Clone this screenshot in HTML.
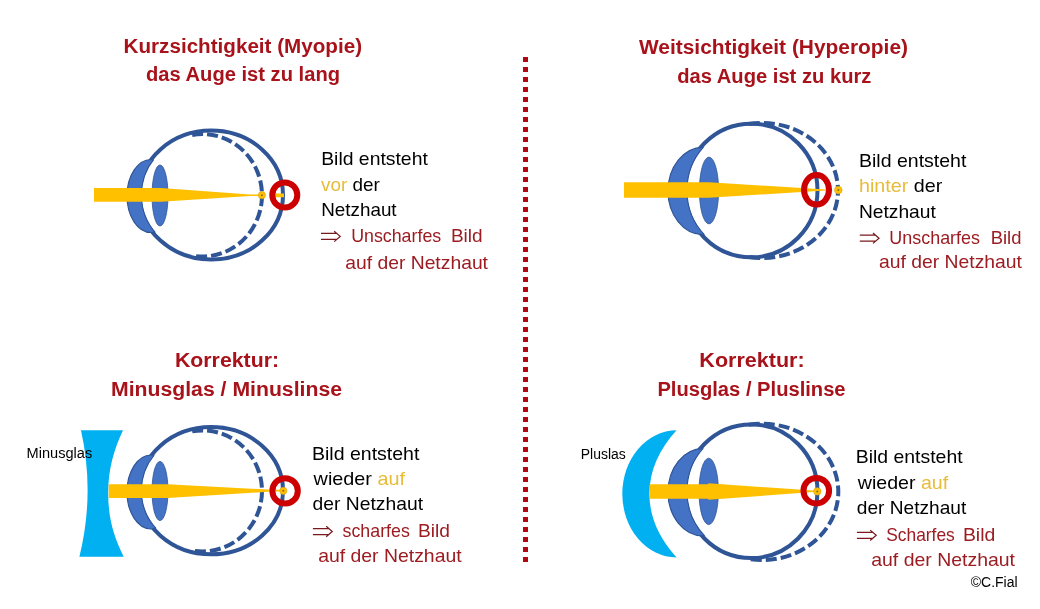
<!DOCTYPE html>
<html><head><meta charset="utf-8"><style>
html,body{margin:0;padding:0;background:#fff;width:1040px;height:609px;overflow:hidden}
svg{display:block;will-change:transform}
text{font-family:"Liberation Sans",sans-serif}
</style></head><body>
<svg width="1040" height="609" viewBox="0 0 1040 609">
<defs><clipPath id="out1"><path clip-rule="evenodd" d="M0 0H1040V609H0Z M141.39999999999998 195a69.8 62.5 0 1 0 139.6 0a69.8 62.5 0 1 0 -139.6 0Z"/></clipPath><clipPath id="cor1"><ellipse cx="151" cy="196" rx="24" ry="36.5"/></clipPath><clipPath id="out2"><path clip-rule="evenodd" d="M0 0H1040V609H0Z M687.0 190.5a64.25 64.8 0 1 0 128.5 0a64.25 64.8 0 1 0 -128.5 0Z"/></clipPath><clipPath id="cor2"><ellipse cx="703" cy="191" rx="35" ry="43.6"/></clipPath><clipPath id="out3"><path clip-rule="evenodd" d="M0 0H1040V609H0Z M141.39999999999998 490.7a69.8 61.6 0 1 0 139.6 0a69.8 61.6 0 1 0 -139.6 0Z"/></clipPath><clipPath id="cor3"><ellipse cx="151" cy="492" rx="24" ry="37"/></clipPath><clipPath id="out4"><path clip-rule="evenodd" d="M0 0H1040V609H0Z M687.0 491.25a64.25 64.8 0 1 0 128.5 0a64.25 64.8 0 1 0 -128.5 0Z"/></clipPath><clipPath id="cor4"><ellipse cx="703" cy="492.2" rx="35" ry="43.6"/></clipPath></defs>
<rect width="1040" height="609" fill="#fff"/>
<rect x="523" y="57" width="5" height="5" fill="#B00810"/>
<rect x="523" y="67" width="5" height="5" fill="#B00810"/>
<rect x="523" y="77" width="5" height="5" fill="#B00810"/>
<rect x="523" y="87" width="5" height="5" fill="#B00810"/>
<rect x="523" y="97" width="5" height="5" fill="#B00810"/>
<rect x="523" y="107" width="5" height="5" fill="#B00810"/>
<rect x="523" y="117" width="5" height="5" fill="#B00810"/>
<rect x="523" y="127" width="5" height="5" fill="#B00810"/>
<rect x="523" y="137" width="5" height="5" fill="#B00810"/>
<rect x="523" y="147" width="5" height="5" fill="#B00810"/>
<rect x="523" y="157" width="5" height="5" fill="#B00810"/>
<rect x="523" y="167" width="5" height="5" fill="#B00810"/>
<rect x="523" y="177" width="5" height="5" fill="#B00810"/>
<rect x="523" y="187" width="5" height="5" fill="#B00810"/>
<rect x="523" y="197" width="5" height="5" fill="#B00810"/>
<rect x="523" y="207" width="5" height="5" fill="#B00810"/>
<rect x="523" y="217" width="5" height="5" fill="#B00810"/>
<rect x="523" y="227" width="5" height="5" fill="#B00810"/>
<rect x="523" y="237" width="5" height="5" fill="#B00810"/>
<rect x="523" y="247" width="5" height="5" fill="#B00810"/>
<rect x="523" y="257" width="5" height="5" fill="#B00810"/>
<rect x="523" y="267" width="5" height="5" fill="#B00810"/>
<rect x="523" y="277" width="5" height="5" fill="#B00810"/>
<rect x="523" y="287" width="5" height="5" fill="#B00810"/>
<rect x="523" y="297" width="5" height="5" fill="#B00810"/>
<rect x="523" y="307" width="5" height="5" fill="#B00810"/>
<rect x="523" y="317" width="5" height="5" fill="#B00810"/>
<rect x="523" y="327" width="5" height="5" fill="#B00810"/>
<rect x="523" y="337" width="5" height="5" fill="#B00810"/>
<rect x="523" y="347" width="5" height="5" fill="#B00810"/>
<rect x="523" y="357" width="5" height="5" fill="#B00810"/>
<rect x="523" y="367" width="5" height="5" fill="#B00810"/>
<rect x="523" y="377" width="5" height="5" fill="#B00810"/>
<rect x="523" y="387" width="5" height="5" fill="#B00810"/>
<rect x="523" y="397" width="5" height="5" fill="#B00810"/>
<rect x="523" y="407" width="5" height="5" fill="#B00810"/>
<rect x="523" y="417" width="5" height="5" fill="#B00810"/>
<rect x="523" y="427" width="5" height="5" fill="#B00810"/>
<rect x="523" y="437" width="5" height="5" fill="#B00810"/>
<rect x="523" y="447" width="5" height="5" fill="#B00810"/>
<rect x="523" y="457" width="5" height="5" fill="#B00810"/>
<rect x="523" y="467" width="5" height="5" fill="#B00810"/>
<rect x="523" y="477" width="5" height="5" fill="#B00810"/>
<rect x="523" y="487" width="5" height="5" fill="#B00810"/>
<rect x="523" y="497" width="5" height="5" fill="#B00810"/>
<rect x="523" y="507" width="5" height="5" fill="#B00810"/>
<rect x="523" y="517" width="5" height="5" fill="#B00810"/>
<rect x="523" y="527" width="5" height="5" fill="#B00810"/>
<rect x="523" y="537" width="5" height="5" fill="#B00810"/>
<rect x="523" y="547" width="5" height="5" fill="#B00810"/>
<rect x="523" y="557" width="5" height="5" fill="#B00810"/>
<path d="M81 430.3 L123 430.3 C114 450 108.2 468 108.2 493.5 C108.2 519 114 537 123.7 556.7 L79.4 556.7 Q95 493.5 81 430.3Z" fill="#00B0F0"/>
<path d="M676.5 430.3 A54.2 63.55 0 0 0 676.5 557.4 Q649.4 527.4 649.4 493.85 Q649.4 460.3 676.5 430.3Z" fill="#00B0F0"/>
<ellipse cx="211.2" cy="195" rx="71.8" ry="64.5" fill="#fff" stroke="#2F5597" stroke-width="4"/>
<path d="M192.17 134.93A59.5 61.25 0 0 1 262.00 195.25A59.5 61.25 0 0 1 192.17 255.57" fill="none" stroke="#2F5597" stroke-width="4" stroke-dasharray="11 4"/>
<g clip-path="url(#out1)"><ellipse cx="151" cy="196" rx="24" ry="36.5" fill="#4472C4" stroke="#2F5597" stroke-width="1.2"/></g>
<g clip-path="url(#cor1)"><ellipse cx="211.2" cy="195" rx="69.8" ry="62.5" fill="none" stroke="#2F5597" stroke-width="1.1"/></g>
<ellipse cx="160" cy="195.5" rx="8" ry="30.5" fill="#4472C4" stroke="#2F5597" stroke-width="0.8"/>
<path d="M94 188H161L250 194.4V196L161 201.7H94Z M250 194.4H262V196H250Z M275 193.6H284V197.2H275Z" fill="#FFC000"/>
<circle cx="261.9" cy="195.2" r="3.6" fill="#FFC000" stroke="#D8A010" stroke-width="0.6"/><circle cx="261.9" cy="195.2" r="1" fill="#8A6A20"/>
<ellipse cx="284.8" cy="195" rx="12.5" ry="12.5" fill="none" stroke="#CC0000" stroke-width="6"/>
<ellipse cx="751.25" cy="190.5" rx="66.25" ry="66.8" fill="#fff" stroke="#2F5597" stroke-width="4"/>
<path d="M748.92 124.03A75.9 67.5 0 0 1 838.00 190.50A75.9 67.5 0 0 1 748.92 256.97" fill="none" stroke="#2F5597" stroke-width="4" stroke-dasharray="11 4"/>
<g clip-path="url(#out2)"><ellipse cx="703" cy="191" rx="35" ry="43.6" fill="#4472C4" stroke="#2F5597" stroke-width="1.2"/></g>
<g clip-path="url(#cor2)"><ellipse cx="751.25" cy="190.5" rx="64.25" ry="64.8" fill="none" stroke="#2F5597" stroke-width="1.1"/></g>
<ellipse cx="709" cy="190.5" rx="9.6" ry="33.4" fill="#4472C4" stroke="#2F5597" stroke-width="0.8"/>
<path d="M624 182.2H709L826 189.5V190.5L709 197.8H624Z" fill="#FFC000"/>
<circle cx="838.3" cy="190.1" r="3.8" fill="#FFC000" stroke="#D8A010" stroke-width="0.6"/><circle cx="838.3" cy="190.1" r="1" fill="#8A6A20"/>
<ellipse cx="816.5" cy="189.8" rx="12.5" ry="14.8" fill="none" stroke="#CC0000" stroke-width="6"/>
<ellipse cx="211.2" cy="490.7" rx="71.8" ry="63.6" fill="#fff" stroke="#2F5597" stroke-width="4"/>
<path d="M192.17 431.32A59.5 60.5 0 0 1 262.00 490.90A59.5 60.5 0 0 1 192.17 550.48" fill="none" stroke="#2F5597" stroke-width="4" stroke-dasharray="11 4"/>
<g clip-path="url(#out3)"><ellipse cx="151" cy="492" rx="24" ry="37" fill="#4472C4" stroke="#2F5597" stroke-width="1.2"/></g>
<g clip-path="url(#cor3)"><ellipse cx="211.2" cy="490.7" rx="69.8" ry="61.6" fill="none" stroke="#2F5597" stroke-width="1.1"/></g>
<ellipse cx="160" cy="491" rx="8" ry="29.6" fill="#4472C4" stroke="#2F5597" stroke-width="0.8"/>
<path d="M108.7 484.2H167.5L272 489.8V491.6L167.5 497.9H108.7Z M272 489.8H283V491.6H272Z" fill="#FFC000"/>
<circle cx="283.3" cy="490.8" r="3.6" fill="#FFC000" stroke="#D8A010" stroke-width="0.6"/><circle cx="283.3" cy="490.8" r="1" fill="#8A6A20"/>
<ellipse cx="285.1" cy="490.9" rx="12.7" ry="12.7" fill="none" stroke="#CC0000" stroke-width="6"/>
<ellipse cx="751.25" cy="491.25" rx="66.25" ry="66.8" fill="#fff" stroke="#2F5597" stroke-width="4"/>
<path d="M748.87 424.74A76.2 68.15 0 0 1 838.30 491.85A76.2 68.15 0 0 1 748.87 558.96" fill="none" stroke="#2F5597" stroke-width="4" stroke-dasharray="11 4"/>
<g clip-path="url(#out4)"><ellipse cx="703" cy="492.2" rx="35" ry="43.6" fill="#4472C4" stroke="#2F5597" stroke-width="1.2"/></g>
<g clip-path="url(#cor4)"><ellipse cx="751.25" cy="491.25" rx="64.25" ry="64.8" fill="none" stroke="#2F5597" stroke-width="1.1"/></g>
<ellipse cx="708.7" cy="491.4" rx="9.7" ry="33.2" fill="#4472C4" stroke="#2F5597" stroke-width="0.8"/>
<path d="M649.6 484.2H708.3V483.3L817 490.8V491.8L708.3 499.8V498.8H649.6Z" fill="#FFC000"/>
<circle cx="817.3" cy="491.4" r="3.7" fill="#FFC000" stroke="#D8A010" stroke-width="0.6"/><circle cx="817.3" cy="491.4" r="1" fill="#8A6A20"/>
<ellipse cx="816.3" cy="490.7" rx="12.8" ry="12.8" fill="none" stroke="#CC0000" stroke-width="6"/>
<path d="M321 233.4H336.7 M321 239.4H336.7 M334.2 231.20000000000002L340.2 236.4L334.2 241.6" fill="none" stroke="#7A1A1E" stroke-width="1.25"/>
<path d="M859.8 235.2H875.5 M859.8 241.2H875.5 M873 233.0L879 238.2L873 243.39999999999998" fill="none" stroke="#7A1A1E" stroke-width="1.25"/>
<path d="M312.9 528.5H328.7 M312.9 534.5H328.7 M326.2 526.3L332.2 531.5L326.2 536.7" fill="none" stroke="#7A1A1E" stroke-width="1.25"/>
<path d="M856.9 532.3H872.7 M856.9 538.3H872.7 M870.2 530.0999999999999L876.2 535.3L870.2 540.5" fill="none" stroke="#7A1A1E" stroke-width="1.25"/>
<text id="t1" x="123.60" y="52.6" font-size="20.3" font-weight="bold" fill="#A8121A" textLength="238.42" lengthAdjust="spacingAndGlyphs">Kurzsichtigkeit (Myopie)</text>
<text id="t2" x="146.00" y="81.3" font-size="20.3" font-weight="bold" fill="#A8121A" textLength="194.01" lengthAdjust="spacingAndGlyphs">das Auge ist zu lang</text>
<text id="t3" x="639.00" y="54.4" font-size="20.3" font-weight="bold" fill="#A8121A" textLength="269.00" lengthAdjust="spacingAndGlyphs">Weitsichtigkeit (Hyperopie)</text>
<text id="t4" x="677.20" y="83.1" font-size="20.3" font-weight="bold" fill="#A8121A" textLength="194.21" lengthAdjust="spacingAndGlyphs">das Auge ist zu kurz</text>
<text id="t5" x="174.97" y="366.5" font-size="20.3" font-weight="bold" fill="#A8121A" textLength="104.06" lengthAdjust="spacingAndGlyphs">Korrektur:</text>
<text id="t6" x="111.00" y="395.6" font-size="20.3" font-weight="bold" fill="#A8121A" textLength="231.00" lengthAdjust="spacingAndGlyphs">Minusglas / Minuslinse</text>
<text id="t7" x="699.37" y="366.5" font-size="20.3" font-weight="bold" fill="#A8121A" textLength="105.28" lengthAdjust="spacingAndGlyphs">Korrektur:</text>
<text id="t8" x="657.39" y="395.7" font-size="20.3" font-weight="bold" fill="#A8121A" textLength="188.22" lengthAdjust="spacingAndGlyphs">Plusglas / Pluslinse</text>
<text id="b1" x="321.19" y="164.7" font-size="17.8" font-weight="normal" fill="#000" textLength="106.61" lengthAdjust="spacingAndGlyphs">Bild entsteht</text>
<text id="b2" x="320.99" y="190.6" font-size="17.8" font-weight="normal" fill="#000" textLength="58.81" lengthAdjust="spacingAndGlyphs"><tspan fill="#E8BC38">vor</tspan> der</text>
<text id="b3" x="321.19" y="215.8" font-size="17.8" font-weight="normal" fill="#000" textLength="75.42" lengthAdjust="spacingAndGlyphs">Netzhaut</text>
<text id="b4" x="351.17" y="241.7" font-size="17.8" font-weight="normal" fill="#9C1C22" textLength="90.04" lengthAdjust="spacingAndGlyphs">Unscharfes</text>
<text id="b5" x="450.93" y="241.6" font-size="17.8" font-weight="normal" fill="#9C1C22" textLength="31.71" lengthAdjust="spacingAndGlyphs">Bild</text>
<text id="b6" x="345.20" y="269.3" font-size="17.8" font-weight="normal" fill="#9C1C22" textLength="142.80" lengthAdjust="spacingAndGlyphs">auf der Netzhaut</text>
<text id="b7" x="858.99" y="166.7" font-size="17.8" font-weight="normal" fill="#000" textLength="107.41" lengthAdjust="spacingAndGlyphs">Bild entsteht</text>
<text id="b8" x="858.99" y="192.3" font-size="17.8" font-weight="normal" fill="#000" textLength="83.21" lengthAdjust="spacingAndGlyphs"><tspan fill="#E8BC38">hinter</tspan> der</text>
<text id="b9" x="858.97" y="217.5" font-size="17.8" font-weight="normal" fill="#000" textLength="76.85" lengthAdjust="spacingAndGlyphs">Netzhaut</text>
<text id="b10" x="889.39" y="243.7" font-size="17.8" font-weight="normal" fill="#9C1C22" textLength="90.61" lengthAdjust="spacingAndGlyphs">Unscharfes</text>
<text id="b11" x="990.71" y="243.6" font-size="17.8" font-weight="normal" fill="#9C1C22" textLength="30.74" lengthAdjust="spacingAndGlyphs">Bild</text>
<text id="b12" x="879.00" y="268.3" font-size="17.8" font-weight="normal" fill="#9C1C22" textLength="143.00" lengthAdjust="spacingAndGlyphs">auf der Netzhaut</text>
<text id="b13" x="311.98" y="459.7" font-size="17.8" font-weight="normal" fill="#000" textLength="107.41" lengthAdjust="spacingAndGlyphs">Bild entsteht</text>
<text id="b14" x="313.59" y="485.3" font-size="17.8" font-weight="normal" fill="#000" textLength="91.41" lengthAdjust="spacingAndGlyphs">wieder <tspan fill="#E8BC38">auf</tspan></text>
<text id="b15" x="312.60" y="510.2" font-size="17.8" font-weight="normal" fill="#000" textLength="110.40" lengthAdjust="spacingAndGlyphs">der Netzhaut</text>
<text id="b16" x="342.60" y="536.8" font-size="17.8" font-weight="normal" fill="#9C1C22" textLength="67.20" lengthAdjust="spacingAndGlyphs">scharfes</text>
<text id="b17" x="417.93" y="536.8" font-size="17.8" font-weight="normal" fill="#9C1C22" textLength="31.97" lengthAdjust="spacingAndGlyphs">Bild</text>
<text id="b18" x="318.19" y="561.5" font-size="17.8" font-weight="normal" fill="#9C1C22" textLength="143.41" lengthAdjust="spacingAndGlyphs">auf der Netzhaut</text>
<text id="b19" x="855.78" y="463.4" font-size="17.8" font-weight="normal" fill="#000" textLength="106.81" lengthAdjust="spacingAndGlyphs">Bild entsteht</text>
<text id="b20" x="857.80" y="489" font-size="17.8" font-weight="normal" fill="#000" textLength="90.40" lengthAdjust="spacingAndGlyphs">wieder <tspan fill="#E8BC38">auf</tspan></text>
<text id="b21" x="856.80" y="513.9" font-size="17.8" font-weight="normal" fill="#000" textLength="109.40" lengthAdjust="spacingAndGlyphs">der Netzhaut</text>
<text id="b22" x="886.18" y="540.6" font-size="17.8" font-weight="normal" fill="#9C1C22" textLength="68.63" lengthAdjust="spacingAndGlyphs">Scharfes</text>
<text id="b23" x="962.90" y="540.5" font-size="17.8" font-weight="normal" fill="#9C1C22" textLength="32.42" lengthAdjust="spacingAndGlyphs">Bild</text>
<text id="b24" x="871.19" y="565.7" font-size="17.8" font-weight="normal" fill="#9C1C22" textLength="143.81" lengthAdjust="spacingAndGlyphs">auf der Netzhaut</text>
<text id="b25" x="970.79" y="586.5" font-size="15.1" font-weight="normal" fill="#000" textLength="46.81" lengthAdjust="spacingAndGlyphs">©C.Fial</text>
<text id="l1" x="26.59" y="457.7" font-size="14" font-weight="normal" fill="#000" textLength="65.63" lengthAdjust="spacingAndGlyphs">Minusglas</text>
<text id="l2" x="580.78" y="458.7" font-size="14" font-weight="normal" fill="#000" textLength="45.02" lengthAdjust="spacingAndGlyphs">Pluslas</text>
</svg></body></html>
